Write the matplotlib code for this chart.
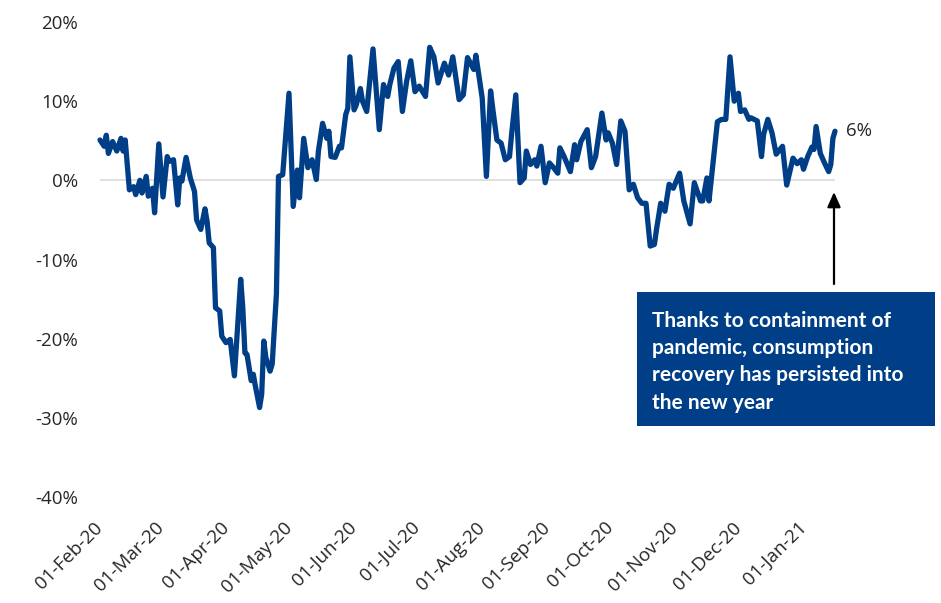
import matplotlib
matplotlib.use("Agg")
import matplotlib.pyplot as plt
import matplotlib.transforms as mtransforms
import pandas as pd
from matplotlib.patches import Rectangle

plt.rcParams["font.family"] = ["Open Sans", "DejaVu Sans"]

# ---- data ----
start_date = "2020-02-01"
day_offsets = [0, 2, 3, 4, 6, 8, 10, 11, 12, 14, 16, 17, 19, 20, 22, 23, 25, 26, 28, 30,
               32, 33, 35, 37, 38, 39, 41, 43, 45, 46, 48, 50, 51, 52, 54, 55, 57, 58, 60, 62,
               64, 65, 67, 68, 69, 70, 72, 73, 74, 76, 77, 78, 79, 81, 82, 84, 85, 87, 90, 92,
               94, 95, 97, 99, 101, 103, 104, 106, 108, 109, 110, 112, 114, 115, 117, 118, 119, 121, 122, 124,
               125, 127, 130, 133, 135, 137, 138, 140, 142, 144, 146, 148, 150, 152, 155, 157, 159, 161, 164, 166,
               168, 171, 173, 175, 178, 179, 182, 184, 186, 187, 189, 191, 193, 195, 196, 198, 200, 202, 203, 205,
               207, 208, 210, 212, 214, 216, 218, 219, 221, 224, 226, 227, 229, 232, 234, 236, 239, 241, 242, 244,
               246, 248, 250, 252, 254, 256, 258, 260, 262, 264, 265, 267, 269, 271, 273, 276, 278, 281, 283, 286,
               287, 289, 290, 292, 294, 296, 298, 300, 302, 304, 305, 307, 309, 310, 313, 315, 316, 318, 320, 322,
               325, 327, 330, 332, 334, 335, 337, 339, 340, 341, 343, 345, 347, 348, 349, 350]
values = [5.1, 4.3, 5.7, 3.4, 4.9, 3.7, 5.3, 3.7, 5.1, -1.2, -0.8, -1.8, 0.0, -1.6, 0.5, -2.0, -1.0, -4.1, 4.6, -2.1,
          3.0, 2.4, 2.6, -3.1, 0.3, -0.1, 2.9, 0.3, -1.4, -5.0, -6.2, -3.6, -5.2, -7.9, -8.5, -16.1, -16.5, -19.7, -20.5, -20.1,
          -24.7, -20.7, -12.5, -16.1, -21.8, -22.0, -25.3, -24.5, -26.0, -28.7, -27.0, -20.3, -22.4, -24.1, -23.2, -14.4, 0.5, 0.7, 11.0, -3.3,
          1.3, -2.2, 5.3, 1.6, 2.6, 0.1, 3.7, 7.2, 5.3, 6.2, 3.0, 2.9, 4.3, 4.1, 8.3, 9.1, 15.6, 8.9, 9.5, 11.6,
          10.0, 8.7, 16.6, 6.4, 12.1, 10.6, 12.1, 14.2, 15.0, 8.7, 12.5, 15.1, 11.2, 11.9, 10.6, 16.8, 15.6, 12.3, 14.8, 13.3,
          15.6, 10.2, 10.8, 15.5, 14.0, 15.8, 10.4, 0.5, 11.3, 9.1, 5.1, 4.7, 2.6, 3.0, 5.8, 10.8, -0.3, 0.3, 3.7, 2.0,
          2.6, 1.8, 4.3, -0.3, 2.2, 1.6, 0.9, 4.1, 3.0, 1.1, 4.5, 2.6, 4.9, 6.4, 1.6, 3.0, 8.5, 5.1, 6.0, 4.7,
          2.0, 7.5, 6.2, -1.2, -0.5, -2.2, -2.9, -2.9, -8.3, -8.1, -6.2, -2.9, -3.9, -0.5, -1.0, 0.9, -2.6, -5.5, -0.3, -2.6,
          -2.6, 0.3, -2.6, 2.4, 7.4, 7.7, 7.7, 15.6, 10.0, 11.0, 8.7, 8.9, 7.7, 7.9, 7.5, 3.0, 5.8, 7.7, 6.0, 3.3,
          4.3, -0.6, 2.8, 2.1, 2.6, 1.4, 3.0, 4.2, 3.9, 6.8, 3.4, 2.2, 1.1, 2.0, 5.3, 6.2]
y_ticks = [-40, -30, -20, -10, 0, 10, 20]
x_tick_dates = ["2020-02-01", "2020-03-01", "2020-04-01", "2020-05-01", "2020-06-01",
                "2020-07-01", "2020-08-01", "2020-09-01", "2020-10-01", "2020-11-01",
                "2020-12-01", "2021-01-01"]
end_label = "6%"
note_text = ("Thanks to containment of\npandemic, consumption\n"
             "recovery has persisted into\nthe new year")

NAVY = "#003F87"
TXT = "#262626"

dates = pd.Timestamp(start_date) + pd.to_timedelta(day_offsets, unit="D")
xt = pd.to_datetime(x_tick_dates)

fig = plt.figure(figsize=(9.41, 6.03), dpi=100)
ax = fig.add_axes([100 / 941, 1 - 497 / 603, 735 / 941, 475 / 603])

ax.axhline(0, color="#D9D9D9", lw=1.2, zorder=1)
ax.plot(dates, values, color=NAVY, lw=3.8, solid_joinstyle="round",
        solid_capstyle="round", zorder=3, clip_on=False)

for s in ax.spines.values():
    s.set_visible(False)
ax.tick_params(axis="both", length=0, labelsize=13.5, labelcolor=TXT)
ax.tick_params(axis="y", pad=16)

ax.set_ylim(-40, 20)
ax.set_yticks(y_ticks)
ax.set_yticklabels([f"{v}%" for v in y_ticks])
ax.set_xlim(dates[0], dates[-1])
ax.set_xticks(xt)
ax.set_xticklabels([])

# rotated date labels drawn as text at the tick positions
trans = mtransforms.blended_transform_factory(ax.transData, ax.transAxes)
offset = mtransforms.ScaledTranslation(0, -20 / 72, fig.dpi_scale_trans)
for d in xt:
    ax.text(d, 0, d.strftime("%d-%b-%y"), transform=trans + offset,
            rotation=45, rotation_mode="anchor", ha="right", va="center",
            fontsize=13.5, color=TXT, clip_on=False)

# end label
ax.annotate(end_label, xy=(dates[-1], values[-1]), xytext=(8, 0),
            textcoords="offset points", va="center", ha="left",
            fontsize=13.5, color=TXT)

# arrow
ax.annotate("", xy=(834 / 941, 1 - 192 / 603), xycoords="figure fraction",
            xytext=(834 / 941, 1 - 284 / 603), textcoords="figure fraction",
            arrowprops=dict(arrowstyle="-|>,head_length=0.9,head_width=0.4",
                            color="black", lw=1.6, shrinkA=0, shrinkB=0))

# note box
fig.patches.append(Rectangle((637 / 941, 1 - 426 / 603), 298 / 941, 134 / 603,
                             transform=fig.transFigure, facecolor=NAVY,
                             edgecolor="none"))
fig.text(652 / 941, 1 - 311 / 603, note_text, color="white", fontsize=15,
         fontweight="bold", family="Lato", va="top", ha="left",
         linespacing=1.45)

fig.savefig("out.png", dpi=100)
